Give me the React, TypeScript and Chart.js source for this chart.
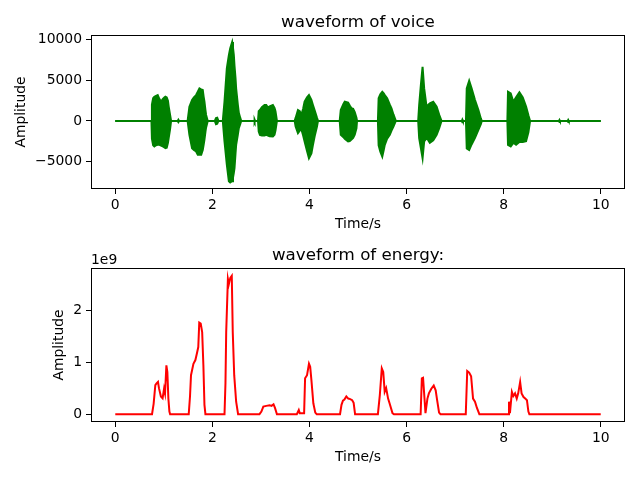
import React, { useEffect, useRef } from 'react';
import { Chart, registerables } from 'chart.js';

Chart.register(...registerables);

const FONT = 'DejaVu Sans';

// ---- data: waveform of voice (envelope of the oscillation, sample amplitude) ----
const voiceTime = [
  0,
  0.745, 0.755, 0.78, 0.805, 0.84, 0.874, 0.91, 0.943, 0.977, 1.01, 1.032, 1.06, 1.085, 1.1, 1.129, 1.15,
  1.285, 1.3, 1.315,
  1.49, 1.527, 1.582, 1.62, 1.665, 1.7, 1.734, 1.77, 1.802, 1.82, 1.837, 1.858, 1.871, 1.905,
  2.05, 2.075, 2.1, 2.125,
  2.215, 2.25, 2.298, 2.34, 2.367, 2.39, 2.408, 2.425, 2.442, 2.456, 2.477, 2.49, 2.525, 2.545, 2.573, 2.594,
  2.86, 2.87, 2.88,
  2.94, 2.955, 2.98, 3.02, 3.075, 3.11, 3.145, 3.18, 3.246, 3.28, 3.3, 3.33,
  3.695, 3.715, 3.763, 3.8, 3.832, 3.87, 3.9, 3.95, 3.99, 4.04, 4.07, 4.107, 4.155, 4.176,
  4.623, 4.645, 4.7, 4.727, 4.796, 4.83, 4.865, 4.9, 4.933, 4.968, 4.98,
  5.41, 5.425, 5.46, 5.5, 5.53, 5.552, 5.6, 5.655, 5.69, 5.73, 5.779,
  6.24, 6.26, 6.295, 6.33, 6.363, 6.412, 6.45, 6.48, 6.55, 6.62, 6.673, 6.72,
  7.14, 7.15, 7.16,
  7.224, 7.24, 7.29, 7.34, 7.41, 7.48, 7.53, 7.55,
  8.077, 8.09, 8.146, 8.2, 8.256, 8.325, 8.394, 8.462, 8.51, 8.545,
  9.14, 9.15, 9.16, 9.32, 9.33, 9.34,
  10,
];
const voiceUpper = [
  0,
  0, 2000, 2800, 2990, 3100, 3190, 2700, 2370, 2700, 2900, 2990, 2900, 2500, 1800, 740, 0,
  0, 150, 0,
  0, 1760, 2580, 2900, 3190, 3600, 4010, 3900, 3810, 3000, 2370, 1300, 740, 0,
  0, 350, 400, 0,
  0, 2370, 6470, 8110, 8930, 9400, 9740, 9000, 8110, 6800, 5240, 4000, 1970, 1000, 400, 0,
  0, 150, 0,
  0, 1200, 1350, 1700, 1970, 1970, 1650, 1800, 1970, 1600, 1200, 0,
  0, 370, 1350, 1200, 740, 1500, 2370, 2900, 3190, 2600, 2000, 1300, 370, 0,
  0, 1350, 2100, 2370, 2250, 1900, 1560, 1500, 1100, 400, 0,
  0, 2800, 3300, 3600, 3400, 3200, 2800, 2000, 1560, 800, 0,
  0, 1970, 4420, 6670, 4010, 1760, 2000, 2170, 2370, 1760, 740, 0,
  0, 150, 0,
  0, 4010, 4950, 4010, 2580, 1350, 300, 0,
  0, 3600, 3400, 2370, 2900, 3520, 2900, 1760, 700, 0,
  0, 120, 0, 0, 120, 0,
  0,
];
const voiceLower = [
  0,
  0, -2200, -3000, -3150, -3000, -2950, -2950, -3050, -3150, -3250, -3360, -3300, -2700, -2130, -1000, 0,
  0, -150, 0,
  0, -1720, -3360, -3600, -3770, -4180, -4180, -4180, -3600, -2950, -2300, -1310, -800, 0,
  0, -400, -350, 0,
  0, -2540, -5400, -7450, -7600, -7500, -7450, -7000, -6400, -5820, -4000, -2950, -1700, -900, -400, 0,
  0, -150, 0,
  0, -1300, -1720, -1800, -1800, -1720, -1800, -1900, -1930, -1700, -1200, 0,
  0, -700, -1510, -1200, -1000, -1800, -2540, -3700, -4590, -4000, -3000, -1900, -700, 0,
  0, -1720, -2000, -2200, -2540, -2500, -2300, -2100, -1700, -900, 0,
  0, -3000, -3800, -4400, -3600, -2950, -2200, -1720, -1200, -700, 0,
  0, -2130, -3360, -4600, -2540, -2130, -2400, -2700, -2400, -1700, -900, 0,
  0, -150, 0,
  0, -3400, -3600, -2900, -2100, -1100, -400, 0,
  0, -2950, -3150, -2700, -2950, -2600, -2600, -2500, -1400, 0,
  0, -120, 0, 0, -120, 0,
  0,
];

// ---- data: waveform of energy (units of 1e9) ----
const energyTime = [
  0,
  0.757, 0.79, 0.825, 0.85, 0.88, 0.9, 0.94, 0.975, 1.005, 1.025, 1.053, 1.073, 1.094, 1.115, 1.13,
  1.513, 1.54, 1.56, 1.61, 1.65, 1.68, 1.71, 1.73, 1.76, 1.79, 1.815, 1.837, 1.857,
  2.25, 2.27, 2.285, 2.32, 2.34, 2.37, 2.4, 2.42, 2.45, 2.49, 2.53,
  2.97, 3.01, 3.05, 3.11, 3.18, 3.22, 3.26, 3.29, 3.33,
  3.74, 3.78, 3.8, 3.89, 3.91, 3.95, 3.99, 4.015, 4.04, 4.08, 4.12, 4.15,
  4.63, 4.66, 4.69, 4.72, 4.76, 4.8, 4.84, 4.88, 4.91, 4.94,
  5.41, 5.45, 5.49, 5.52, 5.55, 5.58, 5.62, 5.65, 5.71, 5.74,
  6.29, 6.315, 6.34, 6.37, 6.39, 6.43, 6.46, 6.51, 6.56, 6.6, 6.63, 6.67, 6.7,
  7.22, 7.25, 7.29, 7.33, 7.37, 7.41, 7.45, 7.5,
  8.1, 8.11, 8.13, 8.17, 8.2, 8.235, 8.27, 8.3, 8.34, 8.37, 8.41, 8.445, 8.48, 8.51, 8.53,
  10,
];
const energyValue = [
  0,
  0, 0.2, 0.56, 0.59, 0.62, 0.5, 0.34, 0.305, 0.49, 0.4, 0.94, 0.81, 0.3, 0.05, 0,
  0, 0.35, 0.75, 0.97, 1.04, 1.16, 1.29, 1.76, 1.74, 1.58, 0.94, 0.18, 0,
  0, 0.6, 1.58, 2.6, 2.5, 2.62, 2.66, 1.58, 0.75, 0.24, 0,
  0, 0.05, 0.145, 0.16, 0.17, 0.16, 0.19, 0.12, 0,
  0, 0.08, 0.02, 0.02, 0.69, 0.75, 0.97, 0.91, 0.66, 0.21, 0.03, 0,
  0, 0.18, 0.26, 0.28, 0.34, 0.3, 0.29, 0.27, 0.22, 0,
  0, 0.37, 0.88, 0.81, 0.43, 0.5, 0.3, 0.21, 0.02, 0,
  0, 0.69, 0.7, 0.3, 0.02, 0.3, 0.4, 0.49, 0.55, 0.46, 0.27, 0.03, 0,
  0, 0.83, 0.8, 0.73, 0.3, 0.24, 0.12, 0,
  0, 0.24, 0.02, 0.43, 0.35, 0.4, 0.3, 0.4, 0.62, 0.4, 0.33, 0.3, 0.27, 0.05, 0,
  0,
];

// ---- ticks ----
const xTicks = [0, 2, 4, 6, 8, 10];
const voiceYTicks = [-5000, 0, 5000, 10000];
const energyYTicks = [0, 1, 2];

const fmt = (v: number) => (v < 0 ? '\u2212' + String(-v) : String(v));

const decor = {
  id: 'mplDecor',
  afterDatasetsDraw(chart: any, _args: any, opts: any) {
    const { ctx, chartArea: a } = chart;
    ctx.save();
    ctx.strokeStyle = '#000';
    ctx.lineWidth = 1;
    ctx.strokeRect(a.left + 0.5, a.top + 0.5, a.width - 1, a.height - 1);
    ctx.fillStyle = '#000';
    ctx.font = `16.7px "${FONT}"`;
    ctx.textAlign = 'center';
    ctx.textBaseline = 'alphabetic';
    ctx.fillText(opts.title, (a.left + a.right) / 2, a.top - 8.3);
    if (opts.offsetText) {
      ctx.font = `13.9px "${FONT}"`;
      ctx.textAlign = 'left';
      ctx.fillText(opts.offsetText, a.left, a.top - 4);
    }
    ctx.restore();
  },
};

function xAxis(height: number, titlePadBottom: number) {
  return {
    type: 'linear',
    min: -0.5,
    max: 10.5,
    afterBuildTicks: (s: any) => {
      s.ticks = xTicks.map((v) => ({ value: v }));
    },
    afterFit: (s: any) => {
      s.height = height;
    },
    ticks: {
      padding: 3,
      color: '#000',
      font: { family: FONT, size: 13.9 },
      maxRotation: 0,
      autoSkip: false,
      callback: (v: any) => fmt(Number(v)),
    },
    grid: { display: true, drawOnChartArea: false, drawTicks: true, tickLength: 5, color: '#000', lineWidth: 1 },
    border: { display: false },
    title: {
      display: true,
      text: 'Time/s',
      color: '#000',
      font: { family: FONT, size: 13.9 },
      padding: { top: 0, bottom: titlePadBottom },
    },
  };
}

function yAxis(min: number, max: number, ticks: number[], titlePadTop: number) {
  return {
    type: 'linear',
    min,
    max,
    afterBuildTicks: (s: any) => {
      s.ticks = ticks.map((v) => ({ value: v }));
    },
    afterFit: (s: any) => {
      s.width = 91;
    },
    ticks: {
      padding: 4,
      color: '#000',
      font: { family: FONT, size: 13.9 },
      autoSkip: false,
      callback: (v: any) => fmt(Number(v)),
    },
    grid: { display: true, drawOnChartArea: false, drawTicks: true, tickLength: 5, color: '#000', lineWidth: 1 },
    border: { display: false },
    title: {
      display: true,
      text: 'Amplitude',
      color: '#000',
      font: { family: FONT, size: 13.9 },
      padding: { top: titlePadTop, bottom: 0 },
    },
  };
}

function voiceConfig(): any {
  return {
    type: 'line',
    data: {
      datasets: [
        {
          data: voiceTime.map((t, i) => ({ x: t, y: voiceUpper[i] })),
          borderColor: '#008000',
          backgroundColor: '#008000',
          borderWidth: 2,
          pointRadius: 0,
          tension: 0,
          fill: '+1',
        },
        {
          data: voiceTime.map((t, i) => ({ x: t, y: voiceLower[i] })),
          borderColor: '#008000',
          backgroundColor: '#008000',
          borderWidth: 2,
          pointRadius: 0,
          tension: 0,
          fill: false,
        },
      ],
    },
    options: {
      responsive: false,
      devicePixelRatio: 1,
      animation: false,
      layout: { padding: { top: 35, right: 15, left: 0, bottom: 0 } },
      scales: {
        x: xAxis(51, 7.7),
        y: yAxis(-8400, 10600, voiceYTicks, 12.9),
      },
      plugins: {
        legend: { display: false },
        tooltip: { enabled: false },
        mplDecor: { title: 'waveform of voice', offsetText: '' },
      },
    },
    plugins: [decor],
  };
}

function energyConfig(): any {
  return {
    type: 'line',
    data: {
      datasets: [
        {
          data: energyTime.map((t, i) => ({ x: t, y: energyValue[i] })),
          borderColor: '#ff0000',
          borderWidth: 2,
          pointRadius: 0,
          tension: 0,
          fill: false,
        },
      ],
    },
    options: {
      responsive: false,
      devicePixelRatio: 1,
      animation: false,
      layout: { padding: { top: 28, right: 15, left: 0, bottom: 0 } },
      scales: {
        x: xAxis(58, 14.7),
        y: yAxis(-0.15, 2.81, energyYTicks, 51),
      },
      plugins: {
        legend: { display: false },
        tooltip: { enabled: false },
        mplDecor: { title: 'waveform of energy:', offsetText: '1e9' },
      },
    },
    plugins: [decor],
  };
}

export default function App() {
  const topRef = useRef<HTMLCanvasElement>(null);
  const botRef = useRef<HTMLCanvasElement>(null);
  useEffect(() => {
    const c1 = new Chart(topRef.current as HTMLCanvasElement, voiceConfig());
    const c2 = new Chart(botRef.current as HTMLCanvasElement, energyConfig());
    return () => {
      c1.destroy();
      c2.destroy();
    };
  }, []);
  return (
    <div style={{ position: 'absolute', left: 0, top: 0, width: 640, height: 480, background: '#fff' }}>
      <canvas
        ref={topRef}
        width={640}
        height={240}
        style={{ position: 'absolute', left: 0, top: 0, width: 640, height: 240 }}
      />
      <canvas
        ref={botRef}
        width={640}
        height={240}
        style={{ position: 'absolute', left: 0, top: 240, width: 640, height: 240 }}
      />
    </div>
  );
}
